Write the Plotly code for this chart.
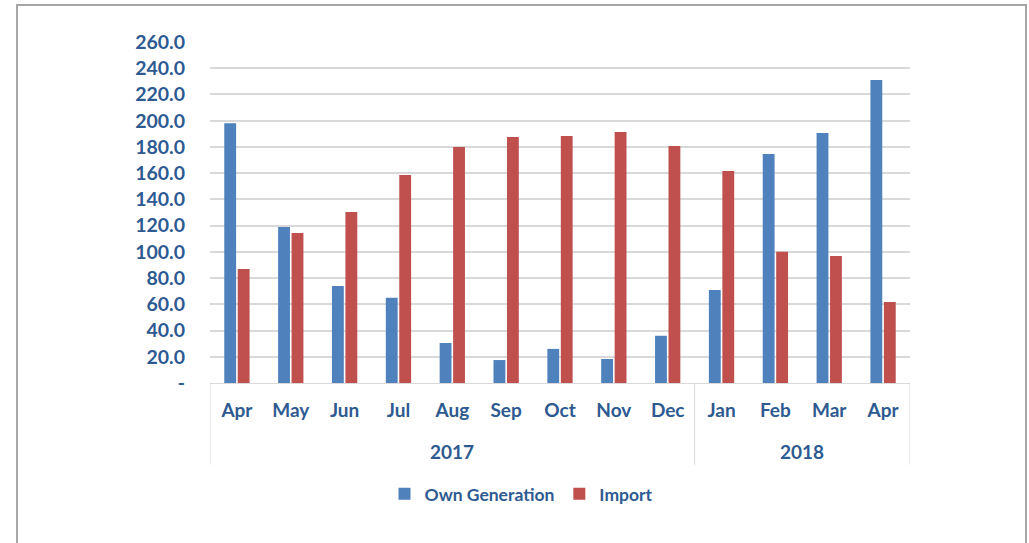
import plotly.graph_objects as go

years = ["2017"] * 9 + ["2018"] * 4
months = ["Apr", "May", "Jun", "Jul", "Aug", "Sep", "Oct", "Nov", "Dec", "Jan", "Feb", "Mar", "Apr"]
own_generation = [198, 119, 74, 65, 30.5, 17.5, 26, 18.3, 36, 71, 174.6, 190.6, 231]
imports = [87, 114.4, 130.4, 158.6, 180, 187.6, 188.3, 191.4, 180.7, 161.6, 100, 96.8, 61.8]
ytick_vals = [0, 20, 40, 60, 80, 100, 120, 140, 160, 180, 200, 220, 240, 260]
ytick_text = ["-"] + [f"{v:.1f}" for v in ytick_vals[1:]]

FONT = "Lato"
TXT = "#2E5A92"
GRID = "#D9D9D9"

idx = list(range(len(months)))

fig = go.Figure()
fig.add_trace(go.Bar(x=idx, y=own_generation, name="Own Generation",
                     marker=dict(color="#4F81BD", line=dict(width=0))))
fig.add_trace(go.Bar(x=idx, y=imports, name="Import",
                     marker=dict(color="#C0504D", line=dict(width=0))))

# year groups: label annotations and divider lines
groups = []
for i, y in enumerate(years):
    if not groups or groups[-1][0] != y:
        groups.append([y, i, i])
    else:
        groups[-1][2] = i

shapes = [dict(type="rect", xref="paper", yref="paper",
               x0=-0.2757, x1=1.1657, y0=-0.6, y1=1.1085,
               line=dict(color="#A6A6A6", width=2), fillcolor="rgba(0,0,0,0)", layer="below")]
annotations = []
bounds = [groups[0][1] - 0.5] + [g[2] + 0.5 for g in groups]
for b in bounds:
    shapes.append(dict(type="line", xref="x", yref="paper", x0=b, x1=b, y0=0, y1=-0.24,
                       line=dict(color=GRID, width=1)))
for name, s, e in groups:
    annotations.append(dict(x=(s + e) / 2, y=-0.202, xref="x", yref="paper", text=name,
                            showarrow=False, yanchor="middle",
                            font=dict(family=FONT, size=19, color=TXT, weight="bold")))

fig.update_layout(
    width=1029, height=543,
    margin=dict(l=210, r=119, t=42, b=160),
    paper_bgcolor="white", plot_bgcolor="white",
    barmode="group", bargap=0.5, bargroupgap=0.12,
    font=dict(family=FONT, color=TXT, size=19),
    showlegend=True,
    legend=dict(orientation="h", x=0.445, xanchor="center", y=-0.325, yanchor="middle",
                font=dict(family=FONT, size=17.5, color=TXT, weight="bold"),
                itemwidth=30, traceorder="normal"),
    xaxis=dict(type="linear", range=[-0.5, len(months) - 0.5],
               tickvals=idx, ticktext=months,
               showline=True, linecolor=GRID, linewidth=1, showgrid=False, zeroline=False,
               tickfont=dict(family=FONT, size=19, color=TXT, weight="bold"),
               ticks="", ticklabelstandoff=10),
    yaxis=dict(range=[0, 260], tickvals=ytick_vals, ticktext=ytick_text,
               showgrid=True, gridcolor=GRID, gridwidth=1.5, zeroline=False,
               tickfont=dict(family=FONT, size=19.5, color=TXT, weight="bold"),
               ticklabelstandoff=24),
    shapes=shapes,
    annotations=annotations,
)

fig.write_html("out.html", config={"displayModeBar": False},
               post_script="document.body.style.margin='0';document.body.style.overflow='hidden';")
